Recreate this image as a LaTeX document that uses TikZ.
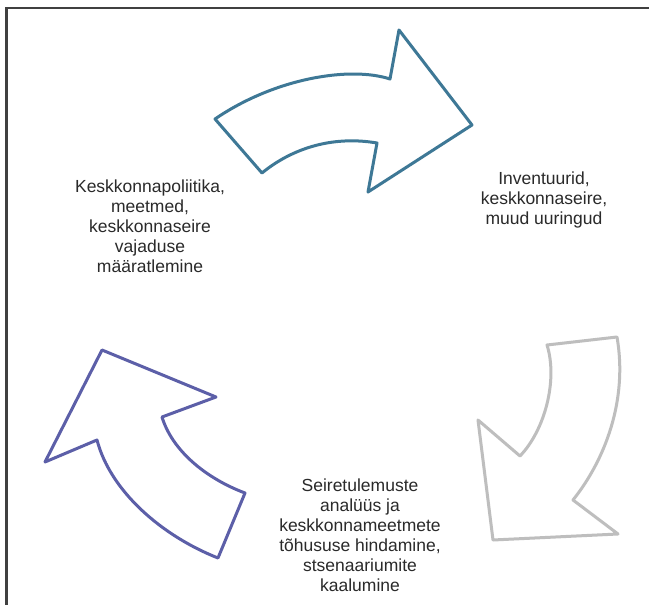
\documentclass[tikz,border=0pt]{standalone}
\usepackage{fontspec}
\setmainfont{Liberation Sans}
\definecolor{tealarrow}{HTML}{3E7896}
\definecolor{purplearrow}{HTML}{5C5FA8}
\definecolor{grayarrow}{HTML}{BEBEBE}
\definecolor{txtgray}{HTML}{2A2A2A}
\begin{document}
\begin{tikzpicture}[x=1pt,y=-1pt,
  arrowshape/.style={line width=3pt, line join=round, fill=white},
  label/.style={align=center, font=\fontsize{17.5}{20}\selectfont, text=txtgray, inner sep=0pt}]
\useasboundingbox (0,0) rectangle (649,605);
\fill[white] (0,0) rectangle (649,605);
% frame (left and top)
\draw[line width=2.5pt, black!75] (6.5,605) -- (6.5,8) -- (649,8);
% top arrow
\draw[arrowshape, draw=tealarrow]
  (215,119) .. controls (275,78) and (350,66) .. (390,79)
  -- (399,30) -- (472,125) -- (368,192) -- (377,143)
  .. controls (330,135) and (290,150) .. (262,173) -- cycle;
% right arrow
\draw[arrowshape, draw=grayarrow]
  (547,345) -- (617,337)
  .. controls (628,400) and (605,460) .. (573,500)
  -- (618,534) -- (493,540) -- (478,420) -- (520,456)
  .. controls (545,430) and (558,380) .. cycle;
% left arrow
\draw[arrowshape, draw=purplearrow]
  (102,350) -- (216,397) -- (162,417)
  .. controls (172,450) and (205,478) .. (245,493)
  -- (218,558)
  .. controls (160,535) and (110,490) .. (97,440)
  -- (45,462) -- cycle;
% texts
\node[label] (policy) at (150,226) {Keskkonnapoliitika,\\meetmed,\\keskkonnaseire\\vajaduse\\määratlemine};
\node[label] (inventory) at (544,200) {Inventuurid,\\keskkonnaseire,\\muud uuringud};
\node[label] (analysis) at (360,535) {Seiretulemuste\\analüüs ja\\keskkonnameetmete\\tõhususe hindamine,\\stsenaariumite\\kaalumine};
\end{tikzpicture}
\end{document}
